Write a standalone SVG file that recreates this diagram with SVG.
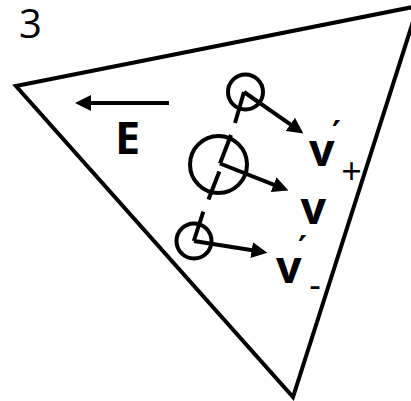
<svg xmlns="http://www.w3.org/2000/svg" width="411" height="401" viewBox="0 0 411 401">
<style>
.ln{stroke:#000;stroke-width:4;fill:none}
.ar{stroke:#000;stroke-width:4;fill:none;marker-end:url(#ah)}
.lb{font-family:"Open Sans","Liberation Sans",sans-serif;font-weight:bold;fill:#000}
.rg{font-family:"Open Sans","Liberation Sans",sans-serif;fill:#000}
.pr{font-family:"DejaVu Sans",sans-serif;font-weight:bold;fill:#000}
</style>
<defs>
<marker id="ah" markerUnits="userSpaceOnUse" viewBox="0 0 16 16" refX="4" refY="8" markerWidth="16" markerHeight="16" orient="auto">
<path d="M0,0 L16,8 L0,16 z" fill="#000"/>
</marker>
</defs>
<rect width="411" height="401" fill="#fff"/>
<text class="rg" x="19" y="37.5" font-size="40">3</text>
<polygon id="triangle" class="ln" points="16,86 418,6 293,397" stroke-linejoin="miter"/>
<g id="field">
<line class="ar" x1="169" y1="103" x2="87" y2="103"/>
<text class="lb" x="115" y="154" font-size="45">E</text>
</g>
<g id="dipole-axis">
<line class="ln" x1="244" y1="92" x2="235" y2="123"/>
<line class="ln" x1="231" y1="135" x2="220" y2="163.5"/>
<line class="ln" x1="219.3" y1="171.5" x2="208.5" y2="199.5"/>
<line class="ln" x1="203.3" y1="211.7" x2="193.8" y2="241"/>
</g>
<g id="particle-plus">
<circle class="ln" cx="245.5" cy="92" r="17.5"/>
</g>
<g id="particle-center">
<circle class="ln" cx="218.5" cy="164.5" r="28.5"/>
</g>
<g id="particle-minus">
<circle class="ln" cx="194" cy="241" r="17.5"/>
</g>
<g id="connectors">
<line class="ar" x1="244" y1="92" x2="293.6" y2="126.6"/>
<line class="ar" x1="220" y1="163.5" x2="277.3" y2="186.1"/>
<line class="ar" x1="194" y1="241" x2="255.6" y2="250.8"/>
</g>
<g id="label-vplus">
<text class="lb" x="309" y="166" font-size="45">v</text>
<text class="pr" x="332" y="145" font-size="34">′</text>
<text class="rg" x="351.5" y="184" font-size="36" text-anchor="middle">+</text>
</g>
<g id="label-v">
<text class="lb" x="300.5" y="224" font-size="45">v</text>
</g>
<g id="label-vminus">
<text class="lb" x="276" y="282.7" font-size="45">v</text>
<text class="pr" x="298" y="260" font-size="34">′</text>
<text class="rg" x="315" y="298" font-size="36" text-anchor="middle">-</text>
</g>
</svg>
